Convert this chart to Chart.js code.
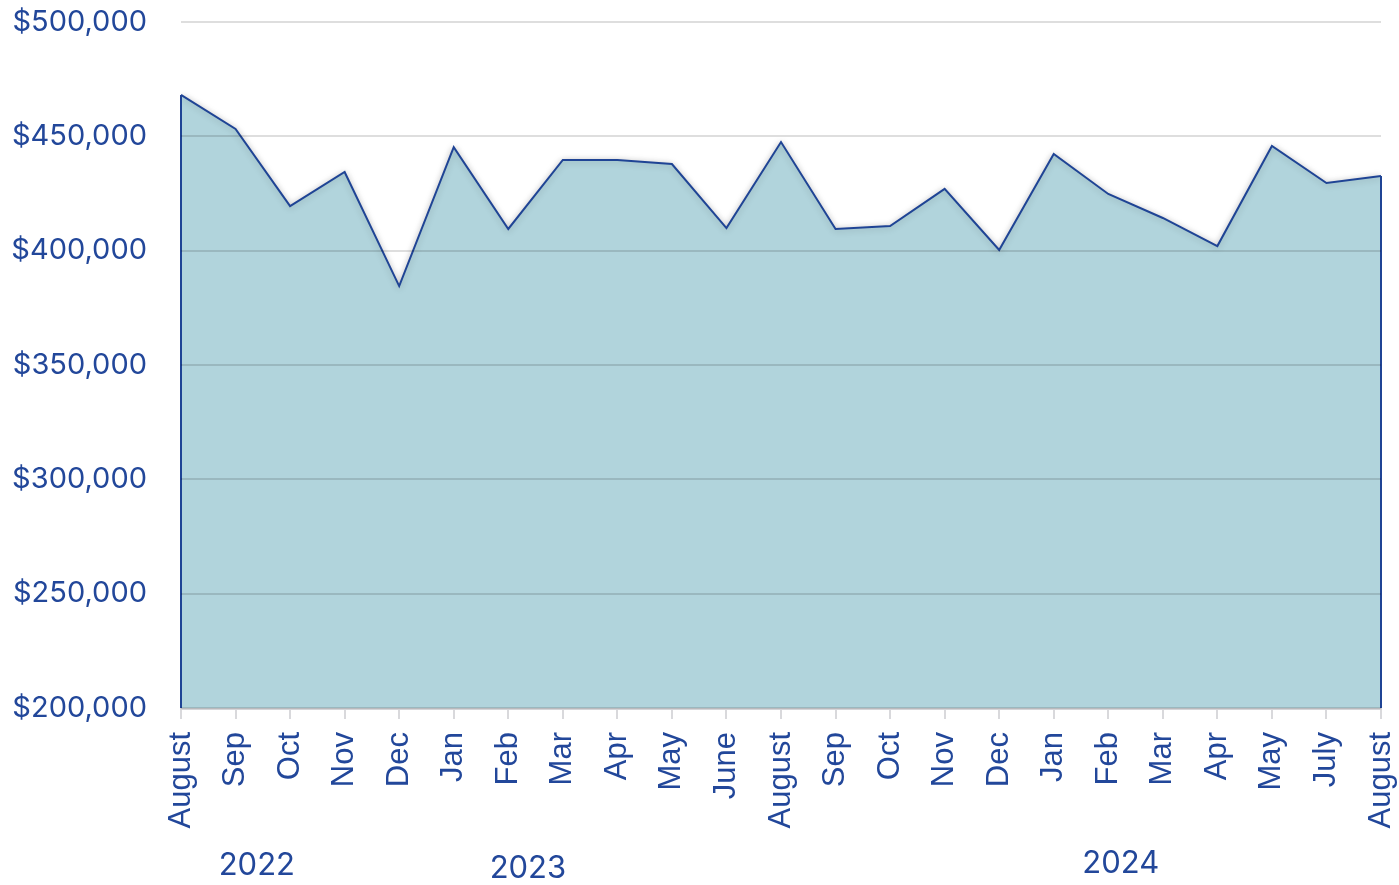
<!DOCTYPE html>
<html lang="en">
<head>
  <meta charset="UTF-8">
  <title>Monthly Total</title>
  <script src="https://cdn.jsdelivr.net/npm/chart.js"></script>
  <style>
    * { box-sizing: border-box; }
    body { margin: 0; padding: 0; background: #ffffff; }
    .wrap { width: 1399px; height: 885px; position: relative; }
  </style>
</head>
<body>
  <div class="wrap">
    <canvas id="chart"></canvas>
  </div>

  <script>
    const months = ['August', 'Sep', 'Oct', 'Nov', 'Dec', 'Jan', 'Feb', 'Mar', 'Apr', 'May', 'June',
      'August', 'Sep', 'Oct', 'Nov', 'Dec', 'Jan', 'Feb', 'Mar', 'Apr', 'May', 'July', 'August'];
    const totals = [468100, 453200, 419500, 434400, 384500, 445300, 409500, 439700, 439600, 437900, 409900,
      447500, 409500, 410800, 427000, 400300, 442300, 424800, 414300, 402000, 445800, 429600, 432700];
    const years = ['2022', '2023', '2024'];
    const yearAt = [1.39, 6.36, 17.23];   // category index where each year label sits
    const yTicks = [200000, 250000, 300000, 350000, 400000, 450000, 500000];

    const textBlue = '#22479a';
    const lineBlue = '#1f4495';

    // shadow under the area + line
    const shadow = {
      id: 'shadow',
      beforeDatasetsDraw(chart) {
        const ctx = chart.ctx;
        ctx.save();
        ctx.shadowColor = 'rgba(0,0,0,0.22)';
        ctx.shadowBlur = 7;
        ctx.shadowOffsetY = 1;
      },
      afterDatasetsDraw(chart) {
        const ctx = chart.ctx;
        ctx.restore();
        // close the area at both ends with the line colour
        const pts = chart.getDatasetMeta(0).data;
        const bottom = chart.chartArea.bottom;
        ctx.save();
        ctx.strokeStyle = lineBlue;
        ctx.lineWidth = 2;
        [pts[0], pts[pts.length - 1]].forEach(p => {
          ctx.beginPath();
          ctx.moveTo(p.x, p.y);
          ctx.lineTo(p.x, bottom);
          ctx.stroke();
        });
        ctx.restore();
      }
    };

    const yearLabels = {
      id: 'yearLabels',
      afterDraw(chart) {
        const ctx = chart.ctx;
        const x = chart.scales.x;
        ctx.save();
        ctx.fillStyle = textBlue;
        ctx.font = '31px Inter';
        ctx.textAlign = 'center';
        ctx.textBaseline = 'middle';
        years.forEach((y, i) => {
          const dy = i === 1 ? 869 : (i === 2 ? 864 : 866);
          ctx.fillText(y, x.getPixelForValue(yearAt[i]), dy);
        });
        ctx.restore();
      }
    };

    new Chart(document.getElementById('chart'), {
      type: 'line',
      data: {
        labels: months,
        datasets: [{
          data: totals,
          borderColor: lineBlue,
          borderWidth: 2,
          backgroundColor: '#b1d4dc',
          fill: 'start',
          pointRadius: 0,
          tension: 0
        }]
      },
      options: {
        responsive: true,
        maintainAspectRatio: false,
        animation: false,
        layout: { padding: { left: 0, right: 18, top: 22, bottom: 0 } },
        plugins: {
          legend: { display: false },
          tooltip: { enabled: false }
        },
        scales: {
          x: {
            offset: false,
            afterFit(axis) {
              axis.height = 177;
              axis.paddingLeft = 0;
              axis.paddingRight = 0;
            },
            grid: {
              drawOnChartArea: false,
              color: '#d9d9dc',
              lineWidth: 2,
              tickLength: 11
            },
            border: { color: '#d5d5d8', width: 3 },
            ticks: {
              color: textBlue,
              font: { family: 'Liberation Sans', size: 31 },
              maxRotation: 90,
              minRotation: 90,
              autoSkip: false,
              padding: 13
            }
          },
          y: {
            min: 200000,
            max: 500000,
            afterBuildTicks(axis) {
              axis.ticks = yTicks.map(v => ({ value: v }));
            },
            afterFit(axis) {
              axis.width = 181;
              axis.paddingTop = 0;
              axis.paddingBottom = 0;
            },
            grid: {
              color: 'rgba(0,0,0,0.13)',
              lineWidth: 2,
              drawTicks: false,
              z: 1
            },
            border: { display: false },
            ticks: {
              color: textBlue,
              font: { family: 'Inter', size: 29 },
              padding: 34,
              callback: v => '$' + v.toLocaleString('en-US')
            }
          }
        }
      },
      plugins: [shadow, yearLabels]
    });
  </script>
</body>
</html>
